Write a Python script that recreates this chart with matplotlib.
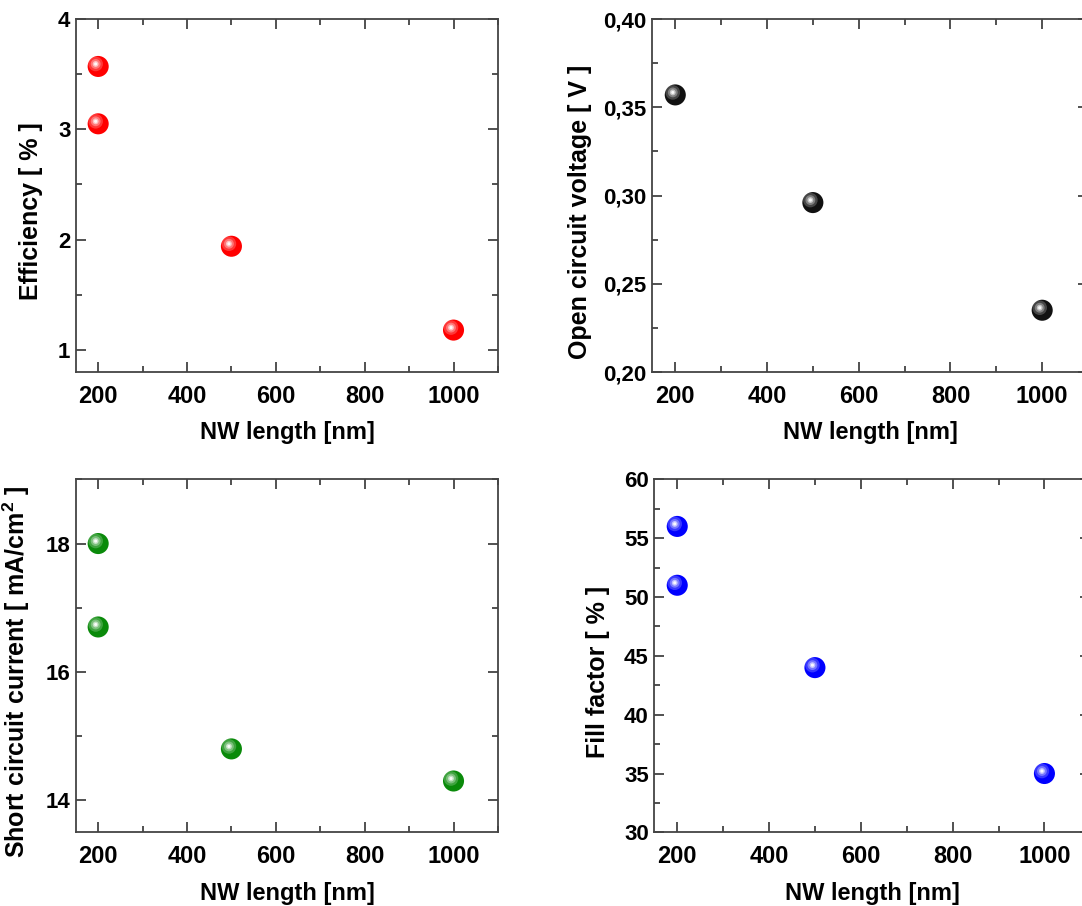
import matplotlib
matplotlib.use("Agg")
import matplotlib.pyplot as plt
from matplotlib.ticker import MultipleLocator, FixedLocator, FixedFormatter
from matplotlib.transforms import offset_copy

plt.rcParams['font.family'] = ['Liberation Sans', 'DejaVu Sans']
plt.rcParams['font.weight'] = 'bold'
plt.rcParams['mathtext.fontset'] = 'custom'
plt.rcParams['mathtext.rm'] = 'Liberation Sans:bold'
plt.rcParams['mathtext.it'] = 'Liberation Sans:bold'
plt.rcParams['mathtext.bf'] = 'Liberation Sans:bold'

# data
nw_length = [200, 200, 500, 1000]
efficiency = [3.57, 3.05, 1.94, 1.18]

voc_length = [200, 500, 1000]
voc = [0.357, 0.296, 0.235]

jsc_length = [200, 200, 500, 1000]
jsc = [18.0, 16.7, 14.8, 14.3]

ff_length = [200, 200, 500, 1000]
fill_factor = [56, 51, 44, 35]

# tick labels
x_ticks = [200, 400, 600, 800, 1000]
eff_ticks = [1, 2, 3, 4]
voc_ticks = [0.20, 0.25, 0.30, 0.35, 0.40]
voc_labels = ['0,20', '0,25', '0,30', '0,35', '0,40']
jsc_ticks = [14, 16, 18]
ff_ticks = [30, 35, 40, 45, 50, 55, 60]

fig = plt.figure(figsize=(10.82, 9.06), dpi=100)

# axes positions in figure fraction (right column runs past the edge)
ax1 = fig.add_axes([0.0702, 0.5894, 0.390, 0.3896])
ax2 = fig.add_axes([0.6029, 0.5894, 0.4027, 0.3896])
ax3 = fig.add_axes([0.0702, 0.0813, 0.390, 0.3896])
ax4 = fig.add_axes([0.6047, 0.0813, 0.4030, 0.3896])


def sphere(ax, x, y, color):
    # a ball with a light spot, like Origin's sphere symbol
    ax.scatter(x, y, s=230, color=color, edgecolors='none', zorder=3)
    shades = [(110, 0.22), (50, 0.32), (18, 0.55), (5, 0.9)]
    for s, a in shades:
        tr = offset_copy(ax.transData, fig=fig, x=-1.8, y=1.8, units='points')
        ax.scatter(x, y, s=s, color='white', alpha=a, edgecolors='none',
                   zorder=4, transform=tr)


def style(ax, ylabel, ylim, yticks, yminor, label_x):
    ax.set_xlim(150, 1100)
    ax.set_ylim(*ylim)
    ax.xaxis.set_major_locator(FixedLocator(x_ticks))
    ax.xaxis.set_minor_locator(MultipleLocator(100))
    ax.yaxis.set_major_locator(FixedLocator(yticks))
    ax.yaxis.set_minor_locator(MultipleLocator(yminor))
    ax.tick_params(which='both', direction='in', top=True, right=True,
                   width=1.2, color='#333333')
    ax.tick_params(which='major', length=7)
    ax.tick_params(which='minor', length=4)
    ax.tick_params(axis='x', labelsize=17, pad=9)
    ax.tick_params(axis='y', labelsize=16, pad=4)
    for sp in ax.spines.values():
        sp.set_linewidth(1.3)
        sp.set_color('#444444')
    ax.set_xlabel('NW length [nm]', fontsize=17, fontweight='bold', labelpad=10)
    ax.set_ylabel(ylabel, fontsize=18, fontweight='bold')
    # y labels sit a bit below the middle in the original
    ax.yaxis.set_label_coords(label_x, 0.455)


sphere(ax1, nw_length, efficiency, '#ff0000')
style(ax1, 'Efficiency [ % ]', (0.8, 4.0), eff_ticks, 0.5, -0.078)

sphere(ax2, voc_length, voc, '#111111')
style(ax2, 'Open circuit voltage [ V ]', (0.20, 0.40), voc_ticks, 0.025, -0.139)
ax2.yaxis.set_major_formatter(FixedFormatter(voc_labels))

sphere(ax3, jsc_length, jsc, '#0a8a0a')
style(ax3, 'Short circuit current [ mA/cm$^{2}$ ]', (13.5, 19.0), jsc_ticks, 1, -0.105)

sphere(ax4, ff_length, fill_factor, '#0000ff')
style(ax4, 'Fill factor [ % ]', (30, 60), ff_ticks, 2.5, -0.102)

plt.savefig('out.png', dpi=100)
